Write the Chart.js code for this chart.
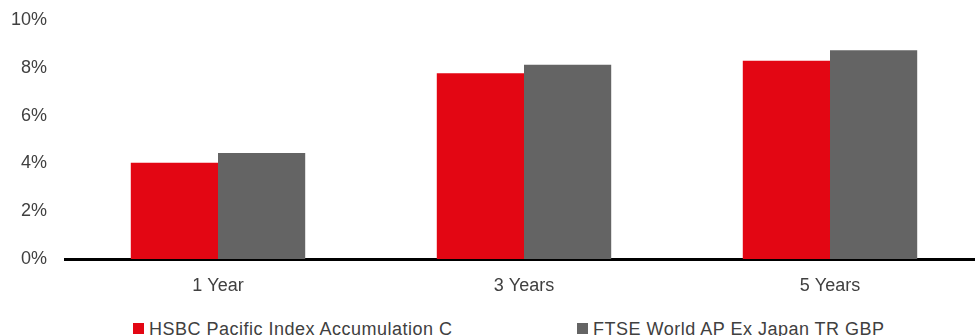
<!DOCTYPE html>
<html>
<head>
<meta charset="utf-8">
<script src="https://cdn.jsdelivr.net/npm/chart.js@4"></script>
<style>
    html, body { margin: 0; padding: 0; background: #ffffff; overflow: hidden; }
    #wrap { position: relative; width: 983px; height: 336px; }
    #canvasBox { position: absolute; left: 0; top: 0; width: 983px; height: 302px; }
    #leyenda { position: absolute; left: 0; top: 320px; width: 983px; height: 16px;
               font-family: "Liberation Sans", Arial, sans-serif; font-size: 18px; color: #404040;
               letter-spacing: 0.5px; }
    .item { position: absolute; top: 0; line-height: 18px; white-space: nowrap; }
    .caja { display: inline-block; width: 11px; height: 11px; margin-right: 5px; vertical-align: 1px; }
</style>
</head>
<body>
<div id="wrap">
    <div id="canvasBox"><canvas id="rendimientoChart"></canvas></div>
    <div id="leyenda"></div>
</div>
<script>
const periodos = ['1 Year', '3 Years', '5 Years'];
const fondo = [4.03, 7.77, 8.30];       // HSBC Pacific Index Accumulation C
const indice = [4.44, 8.13, 8.73];      // FTSE World AP Ex Japan TR GBP
const nombres = ['HSBC Pacific Index Accumulation C', 'FTSE World AP Ex Japan TR GBP'];
const colores = ['#E30613', '#646464'];
const ticksY = [0, 2, 4, 6, 8, 10];

const fuente = { family: '"Liberation Sans", Arial, sans-serif', size: 18 };

const ctx = document.getElementById('rendimientoChart').getContext('2d');
const grafico = new Chart(ctx, {
    type: 'bar',
    data: {
        labels: periodos,
        datasets: [
            { label: nombres[0], data: fondo, backgroundColor: colores[0] },
            { label: nombres[1], data: indice, backgroundColor: colores[1] }
        ]
    },
    options: {
        responsive: true,
        maintainAspectRatio: false,
        animation: false,
        layout: { padding: { top: 20, bottom: 5, left: 0, right: 0 } },
        datasets: {
            bar: { barPercentage: 1.0, categoryPercentage: 0.57 }
        },
        scales: {
            x: {
                afterFit: scale => { scale.height = 38; },
                grid: { display: false, drawTicks: false },
                border: { display: true, color: '#000000', width: 3 },
                ticks: { color: '#404040', font: fuente, padding: 16 }
            },
            y: {
                min: 0,
                max: 10,
                afterFit: scale => {
                    scale.width = 65;
                    scale.paddingTop = 0;
                    scale.paddingBottom = 0;
                },
                afterBuildTicks: scale => { scale.ticks = ticksY.map(v => ({ value: v })); },
                grid: { display: false, drawTicks: false },
                border: { display: false },
                ticks: {
                    color: '#404040',
                    font: fuente,
                    padding: 18,
                    callback: v => v + '%'
                }
            }
        },
        plugins: {
            legend: { display: false },
            tooltip: { enabled: false }
        }
    }
});

// leyenda en HTML con las posiciones del original
const posiciones = [133, 577];
const leyenda = document.getElementById('leyenda');
grafico.data.datasets.forEach((ds, i) => {
    const item = document.createElement('div');
    item.className = 'item';
    item.style.left = posiciones[i] + 'px';
    const caja = document.createElement('span');
    caja.className = 'caja';
    caja.style.background = ds.backgroundColor;
    item.appendChild(caja);
    item.appendChild(document.createTextNode(ds.label));
    leyenda.appendChild(item);
});
</script>
</body>
</html>
